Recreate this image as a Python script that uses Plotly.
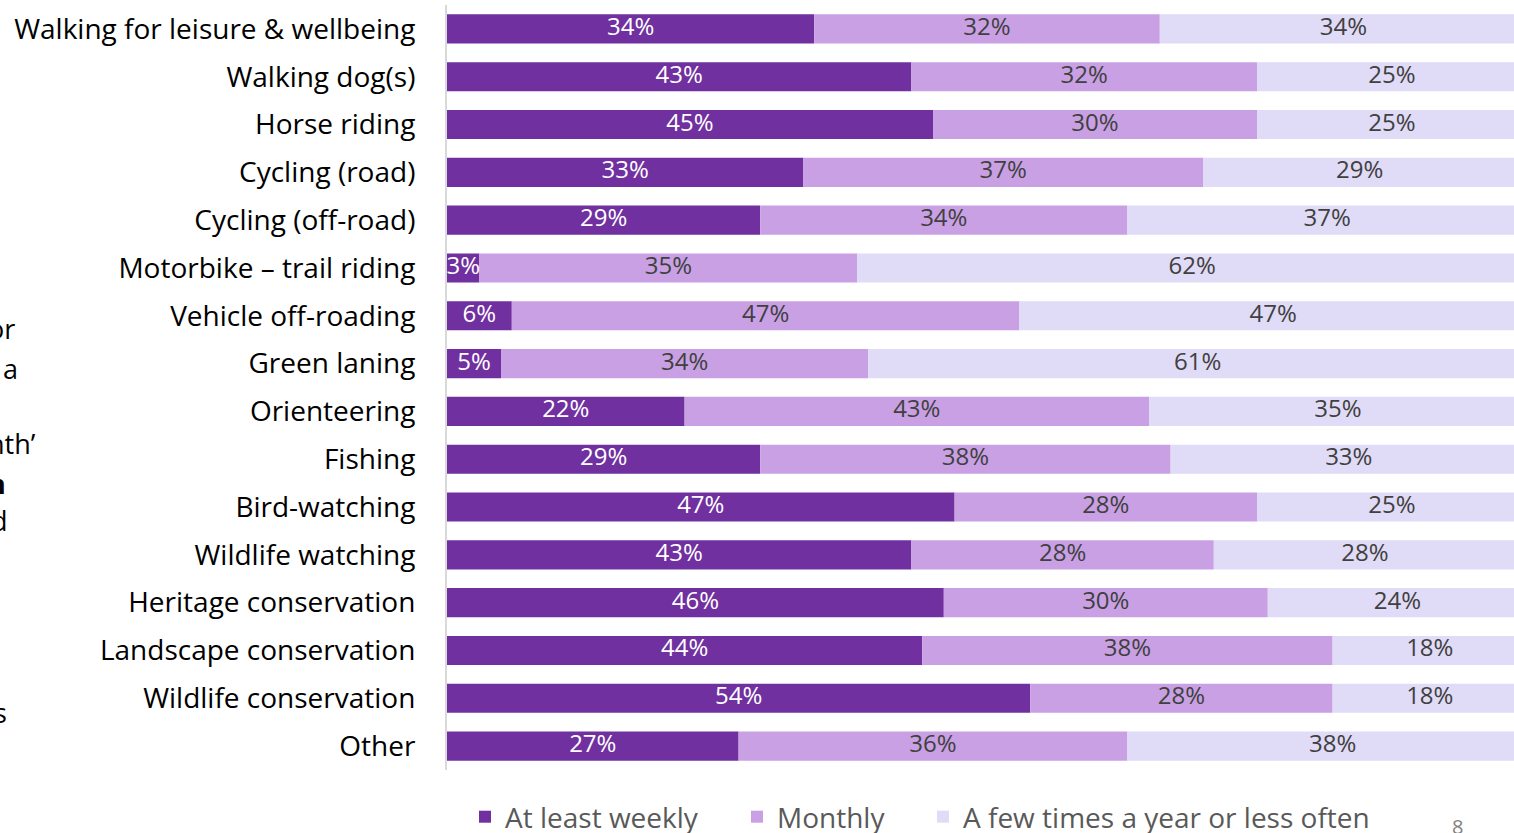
import plotly.graph_objects as go

categories = ["Walking for leisure & wellbeing", "Walking dog(s)", "Horse riding",
              "Cycling (road)", "Cycling (off-road)", "Motorbike \u2013 trail riding",
              "Vehicle off-roading", "Green laning", "Orienteering", "Fishing",
              "Bird-watching", "Wildlife watching", "Heritage conservation",
              "Landscape conservation", "Wildlife conservation", "Other"]
weekly = [34, 43, 45, 33, 29, 3, 6, 5, 22, 29, 47, 43, 46, 44, 54, 27]
monthly = [32, 32, 30, 37, 34, 35, 47, 34, 43, 38, 28, 28, 30, 38, 28, 36]
yearly = [34, 25, 25, 29, 37, 62, 47, 61, 35, 33, 25, 28, 24, 18, 18, 38]
series_names = ["At least weekly", "Monthly", "A few times a year or less often"]
colors = ["#7030A0", "#C9A0E4", "#E0DBF6"]
text_colors = ["#FFFFFF", "#404040", "#404040"]

W, H = 1514, 833
L, R, T, B = 447, 0, 5, 63
pw = W - L - R
ph = H - T - B
FONT = "Open Sans"

fig = go.Figure()
legend_ids = ["legend", "legend2", "legend3"]
base = [0] * len(categories)
for name, vals, col, tc, lid in zip(series_names, [weekly, monthly, yearly], colors,
                                     text_colors, legend_ids):
    fig.add_trace(go.Bar(
        y=categories, x=vals, base=base, name=name, orientation="h",
        marker=dict(color=col, line=dict(width=0)), legend=lid,
        hoverinfo="skip",
    ))
    mids = [b + v / 2 for b, v in zip(base, vals)]
    fig.add_trace(go.Scatter(
        y=categories, x=mids, mode="text", text=[f"{v}%" for v in vals],
        textposition="middle center", showlegend=False, hoverinfo="skip",
        textfont=dict(family=FONT, size=24, color=tc), cliponaxis=False,
    ))
    base = [b + v for b, v in zip(base, vals)]

leg_common = dict(orientation="h", xanchor="left", yanchor="middle",
                  y=(T + ph - 817) / ph,
                  font=dict(family=FONT, size=28, color="#595959"),
                  itemclick=False, bgcolor="rgba(0,0,0,0)", borderwidth=0)

n = len(categories)
fig.update_layout(
    barmode="overlay", bargap=0.39,
    width=W, height=H,
    margin=dict(l=L, r=R, t=T, b=B, pad=0, autoexpand=False),
    paper_bgcolor="white", plot_bgcolor="white",
    font=dict(family=FONT, color="#000000"),
    xaxis=dict(range=[0, pw / 10.8], showgrid=False, zeroline=False,
               showticklabels=False, ticks="", fixedrange=True),
    yaxis=dict(range=[n - 0.5, -0.5], showgrid=False, zeroline=False,
               showline=True, linecolor="#D9D9D9", linewidth=2,
               ticks="", ticklabelstandoff=24,
               tickfont=dict(family=FONT, size=28, color="#000000")),
    legend=dict(x=(465 - L) / pw, **leg_common),
    legend2=dict(x=(737 - L) / pw, **leg_common),
    legend3=dict(x=(923 - L) / pw, **leg_common),
    showlegend=True,
)

frags = [("or", 17, 328, False), ("a", 20, 368, False), ("nth\u2019", 38, 443, False),
         ("n", 8, 483, True), ("d", 10, 520, False), ("s", 9, 712, False)]
for txt, xr, yc, bold in frags:
    fig.add_annotation(text=f"<b>{txt}</b>" if bold else txt, xref="paper", yref="paper",
                       x=(xr - L) / pw, y=(T + ph - yc) / ph, xanchor="right", yanchor="middle",
                       showarrow=False, font=dict(family=FONT, size=27, color="#000000"))
fig.add_annotation(text="8", xref="paper", yref="paper", x=(1457 - L) / pw,
                   y=(T + ph - 826) / ph, xanchor="center", yanchor="middle",
                   showarrow=False, font=dict(family=FONT, size=20, color="#7F7F7F"))

fig.write_html("out.html")
